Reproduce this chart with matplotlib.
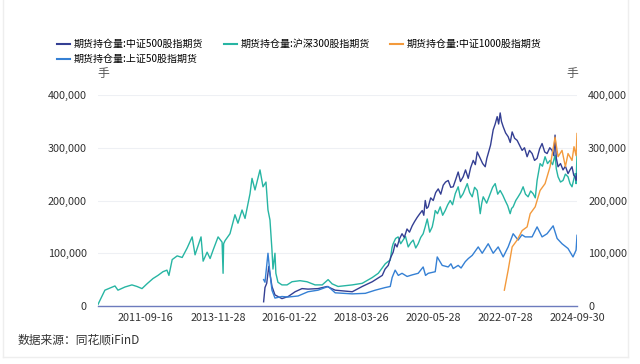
import pandas as pd
import matplotlib
matplotlib.use("Agg")
import matplotlib.pyplot as plt
from matplotlib.ticker import FuncFormatter
from matplotlib.lines import Line2D

plt.rcParams['font.family'] = ['Noto Sans CJK SC', 'DejaVu Sans']

# 期货持仓量:沪深300股指期货 (IF)
if_dates = [
    "2010-04-16", "2010-07-01", "2010-08-25", "2010-10-20", "2010-11-22", "2011-02-07",
    "2011-04-25", "2011-06-20", "2011-08-14", "2011-10-08", "2011-12-13", "2012-02-06",
    "2012-04-01", "2012-05-15", "2012-06-06", "2012-07-12", "2012-09-05", "2012-10-30",
    "2012-12-24", "2013-02-17", "2013-03-21", "2013-05-26", "2013-06-18", "2013-08-01",
    "2013-09-03", "2013-10-06", "2013-11-30", "2014-01-13", "2014-01-24", "2014-01-30",
    "2014-02-15", "2014-04-10", "2014-06-04", "2014-07-07", "2014-08-21", "2014-09-23",
    "2014-11-17", "2014-12-09", "2015-01-11", "2015-03-07", "2015-04-09", "2015-05-12",
    "2015-06-03", "2015-06-25", "2015-07-17", "2015-07-28", "2015-08-19", "2015-08-29",
    "2015-09-21", "2015-11-04", "2015-12-30", "2016-02-23", "2016-05-21", "2016-08-06",
    "2016-11-03", "2017-01-21", "2017-03-27", "2017-05-10", "2017-07-15", "2017-12-18",
    "2018-04-07", "2018-07-27", "2018-10-01", "2018-12-17", "2019-01-15", "2019-02-10",
    "2019-03-01", "2019-03-14", "2019-04-10", "2019-05-08", "2019-06-05", "2019-07-02",
    "2019-07-28", "2019-08-27", "2019-09-25", "2019-10-21", "2019-11-18", "2019-12-15",
    "2020-01-12", "2020-02-08", "2020-03-01", "2020-03-24", "2020-04-20", "2020-05-18",
    "2020-06-05", "2020-06-20", "2020-07-15", "2020-08-14", "2020-09-10", "2020-10-08",
    "2020-11-05", "2020-12-02", "2020-12-28", "2021-01-27", "2021-02-28", "2021-03-25",
    "2021-04-24", "2021-05-15", "2021-06-08", "2021-07-05", "2021-08-02", "2021-08-28",
    "2021-09-26", "2021-10-15", "2021-10-29", "2021-11-15", "2021-12-01", "2022-01-08",
    "2022-02-16", "2022-03-15", "2022-04-12", "2022-05-10", "2022-06-06", "2022-07-05",
    "2022-07-31", "2022-08-28", "2022-09-24", "2022-10-10", "2022-10-27", "2022-11-25",
    "2022-12-21", "2023-01-18", "2023-02-14", "2023-03-12", "2023-04-10", "2023-05-08",
    "2023-06-04", "2023-06-28", "2023-07-18", "2023-08-20", "2023-09-15", "2023-10-14",
    "2023-11-10", "2023-12-08", "2024-01-05", "2024-02-01", "2024-02-15", "2024-03-05",
    "2024-04-01", "2024-04-29", "2024-05-25", "2024-06-23", "2024-07-15", "2024-08-06",
    "2024-08-25", "2024-09-09", "2024-09-20", "2024-09-30",
]
if_values = [
    3000, 30000, 34000, 38000, 30000, 36000,
    40000, 37000, 33000, 42000, 52000, 58000,
    65000, 68000, 58000, 88000, 95000, 92000,
    110000, 131000, 97000, 131000, 85000, 102000,
    90000, 106000, 131000, 121000, 62000, 118000,
    124000, 137000, 173000, 157000, 182000, 166000,
    213000, 242000, 220000, 258000, 226000, 235000,
    182000, 163000, 106000, 70000, 100000, 62000,
    45000, 40000, 40000, 46000, 48000, 46000,
    40000, 40000, 50000, 42000, 37000, 40000,
    43000, 54000, 62000, 80000, 84000, 87000,
    110000, 118000, 128000, 131000, 118000, 125000,
    132000, 112000, 120000, 125000, 110000, 118000,
    130000, 137000, 150000, 165000, 140000, 150000,
    165000, 181000, 175000, 188000, 172000, 181000,
    192000, 200000, 192000, 213000, 226000, 205000,
    213000, 222000, 232000, 215000, 207000, 225000,
    219000, 195000, 175000, 195000, 207000, 195000,
    213000, 225000, 232000, 212000, 219000, 210000,
    200000, 190000, 175000, 185000, 188000, 200000,
    207000, 215000, 226000, 212000, 207000, 218000,
    213000, 205000, 238000, 270000, 265000, 283000,
    270000, 276000, 268000, 286000, 260000, 245000,
    235000, 238000, 250000, 245000, 232000, 226000,
    240000, 251000, 232000, 289000,
]

# 期货持仓量:中证500股指期货 (IC)
ic_dates = [
    "2015-04-16", "2015-05-01", "2015-05-20", "2015-06-12", "2015-07-17", "2015-08-19",
    "2015-11-04", "2016-01-12", "2016-03-28", "2016-06-12", "2016-08-17", "2016-12-06",
    "2017-03-16", "2017-06-13", "2017-12-18", "2018-04-07", "2018-07-27", "2018-11-14",
    "2018-12-15", "2019-01-19", "2019-02-15", "2019-03-14", "2019-04-05", "2019-04-26",
    "2019-05-25", "2019-06-20", "2019-07-15", "2019-08-14", "2019-09-10", "2019-10-10",
    "2019-11-05", "2019-12-04", "2020-01-02", "2020-01-29", "2020-02-15", "2020-03-02",
    "2020-03-18", "2020-04-04", "2020-05-01", "2020-05-29", "2020-06-25", "2020-07-23",
    "2020-08-20", "2020-09-16", "2020-10-12", "2020-11-10", "2020-12-08", "2021-01-04",
    "2021-02-01", "2021-02-28", "2021-03-25", "2021-04-24", "2021-05-20", "2021-06-19",
    "2021-07-15", "2021-08-13", "2021-09-05", "2021-09-26", "2021-10-29", "2021-11-25",
    "2021-12-23", "2022-01-10", "2022-01-25", "2022-02-20", "2022-03-21", "2022-04-12",
    "2022-05-04", "2022-05-20", "2022-06-06", "2022-06-20", "2022-07-09", "2022-08-05",
    "2022-09-02", "2022-09-25", "2022-10-16", "2022-11-12", "2022-12-10", "2023-01-05",
    "2023-02-03", "2023-03-01", "2023-03-30", "2023-04-25", "2023-05-24", "2023-06-20",
    "2023-07-18", "2023-08-15", "2023-09-11", "2023-10-10", "2023-11-05", "2023-12-05",
    "2023-12-30", "2024-01-18", "2024-02-01", "2024-02-15", "2024-03-05", "2024-04-01",
    "2024-04-29", "2024-05-25", "2024-06-23", "2024-07-15", "2024-08-06", "2024-08-25",
    "2024-09-09", "2024-09-20", "2024-09-30",
]
ic_values = [
    8000, 35000, 43000, 75000, 37000, 21000,
    14000, 18000, 27000, 33000, 32000, 33000,
    37000, 30000, 27000, 37000, 46000, 58000,
    70000, 77000, 92000, 102000, 118000, 112000,
    128000, 137000, 130000, 146000, 140000, 152000,
    160000, 168000, 175000, 181000, 172000, 200000,
    185000, 188000, 205000, 200000, 215000, 222000,
    212000, 229000, 235000, 238000, 225000, 226000,
    240000, 254000, 236000, 245000, 258000, 242000,
    262000, 276000, 268000, 292000, 280000, 270000,
    264000, 280000, 289000, 305000, 334000, 345000,
    359000, 345000, 366000, 350000, 340000, 328000,
    321000, 310000, 330000, 318000, 314000, 305000,
    295000, 300000, 283000, 295000, 289000, 276000,
    280000, 298000, 308000, 292000, 289000, 300000,
    295000, 285000, 324000, 280000, 264000, 270000,
    258000, 265000, 251000, 258000, 264000, 248000,
    245000, 238000, 251000,
]

# 期货持仓量:上证50股指期货 (IH)
ih_dates = [
    "2015-04-16", "2015-05-01", "2015-06-03", "2015-06-25", "2015-07-17", "2015-08-19",
    "2015-11-04", "2016-01-12", "2016-04-30", "2016-08-17", "2016-12-06", "2017-03-27",
    "2017-06-13", "2017-12-18", "2018-05-11", "2018-08-29", "2018-12-17", "2019-02-10",
    "2019-03-03", "2019-04-05", "2019-05-10", "2019-06-20", "2019-08-15", "2019-10-10",
    "2019-12-15", "2020-02-08", "2020-03-05", "2020-04-04", "2020-06-20", "2020-07-12",
    "2020-09-05", "2020-11-10", "2020-12-10", "2021-01-04", "2021-02-28", "2021-04-01",
    "2021-05-17", "2021-06-20", "2021-08-02", "2021-10-07", "2021-11-20", "2021-12-23",
    "2022-01-25", "2022-03-21", "2022-05-15", "2022-07-09", "2022-09-02", "2022-10-27",
    "2022-12-21", "2023-02-01", "2023-03-09", "2023-05-24", "2023-07-18", "2023-09-11",
    "2023-11-05", "2024-01-11", "2024-02-24", "2024-04-18", "2024-06-23", "2024-08-17",
    "2024-09-20", "2024-09-30",
]
ih_values = [
    50000, 45000, 100000, 62000, 30000, 15000,
    18000, 17000, 19000, 27000, 30000, 37000,
    25000, 23000, 24000, 30000, 35000, 37000,
    54000, 68000, 58000, 62000, 56000, 59000,
    62000, 74000, 58000, 62000, 65000, 93000,
    77000, 74000, 80000, 71000, 77000, 72000,
    84000, 90000, 96000, 112000, 100000, 109000,
    118000, 100000, 112000, 93000, 112000, 137000,
    125000, 135000, 131000, 131000, 150000, 131000,
    137000, 152000, 128000, 118000, 109000, 93000,
    106000, 134000,
]

# 期货持仓量:中证1000股指期货 (IM)
im_dates = [
    "2022-07-22", "2022-09-02", "2022-10-16", "2022-12-10", "2023-02-03", "2023-03-30",
    "2023-05-03", "2023-06-27", "2023-08-20", "2023-10-14", "2023-12-08", "2024-02-01",
    "2024-03-05", "2024-04-18", "2024-05-25", "2024-06-23", "2024-08-06", "2024-08-28",
    "2024-09-20", "2024-09-30",
]
im_values = [
    30000, 68000, 112000, 125000, 143000, 150000,
    175000, 188000, 219000, 232000, 264000, 320000,
    283000, 295000, 264000, 289000, 276000, 302000,
    285000, 327000,
]

tick_dates = ["2011-09-16", "2013-11-28", "2016-01-22", "2018-03-26",
              "2020-05-28", "2022-07-28", "2024-09-30"]

series = [
    ("期货持仓量:中证500股指期货", ic_dates, ic_values, "#343f93"),
    ("期货持仓量:沪深300股指期货", if_dates, if_values, "#27b5a3"),
    ("期货持仓量:上证50股指期货", ih_dates, ih_values, "#3580d4"),
    ("期货持仓量:中证1000股指期货", im_dates, im_values, "#f39a3c"),
]

fig = plt.figure(figsize=(6.4, 3.64), dpi=100)
ax = fig.add_axes([98 / 640, 1 - 306 / 364, 479 / 640, 211 / 364])

# teal first so the others sit on top of it
for name, d, v, c in [series[1], series[0], series[2], series[3]]:
    ax.plot(pd.to_datetime(d), v, color=c, linewidth=1.0, label=name)

ax.set_xlim(pd.Timestamp("2010-04-16"), pd.Timestamp("2024-09-30"))
ax.set_ylim(0, 400000)
ax.set_yticks([0, 100000, 200000, 300000, 400000])
ax.yaxis.set_major_formatter(FuncFormatter(lambda v, p: f"{int(v):,}"))
ax.set_xticks(pd.to_datetime(tick_dates))
ax.set_xticklabels(tick_dates)

ax.grid(axis="y", color="#eef0f4", linewidth=0.8)
ax.set_axisbelow(True)
for s in ["top", "left", "right"]:
    ax.spines[s].set_visible(False)
ax.spines["bottom"].set_color("#6d7bbd")
ax.spines["bottom"].set_linewidth(1.0)
ax.tick_params(axis="y", length=0, labelsize=7.8, labelcolor="#333333",
               labelleft=True, labelright=True, pad=8)
ax.tick_params(axis="x", length=0, labelsize=7.8, labelcolor="#333333", pad=5)

# legend: first column holds IC and IH
order = [series[0], series[2], series[1], series[3]]
handles = [Line2D([], [], color=c, linewidth=1.5) for _, _, _, c in order]
labels = [n for n, _, _, _ in order]
fig.legend(handles, labels, ncol=3, loc="upper left", bbox_to_anchor=(57 / 640, 1 - 39 / 364),
           frameon=False, fontsize=7.2, handlelength=1.3, handletextpad=0.4,
           columnspacing=2.0, labelspacing=0.5, borderaxespad=0, borderpad=0)

fig.text(103 / 640, 1 - 74 / 364, "手", fontsize=8.5, color="#555555", ha="center", va="center")
fig.text(572 / 640, 1 - 74 / 364, "手", fontsize=8.5, color="#555555", ha="center", va="center")
fig.text(18 / 640, 1 - 340 / 364, "数据来源：同花顺iFinD", fontsize=8.5, color="#333333",
         ha="left", va="center")

# faint card border
for xs, ys in [([3, 3], [0, 357]), ([628, 628], [0, 357]), ([3, 628], [357, 357])]:
    fig.add_artist(Line2D([x / 640 for x in xs], [1 - y / 364 for y in ys],
                          color="#eeeeee", linewidth=1.0))

fig.savefig("out.png", dpi=100)
